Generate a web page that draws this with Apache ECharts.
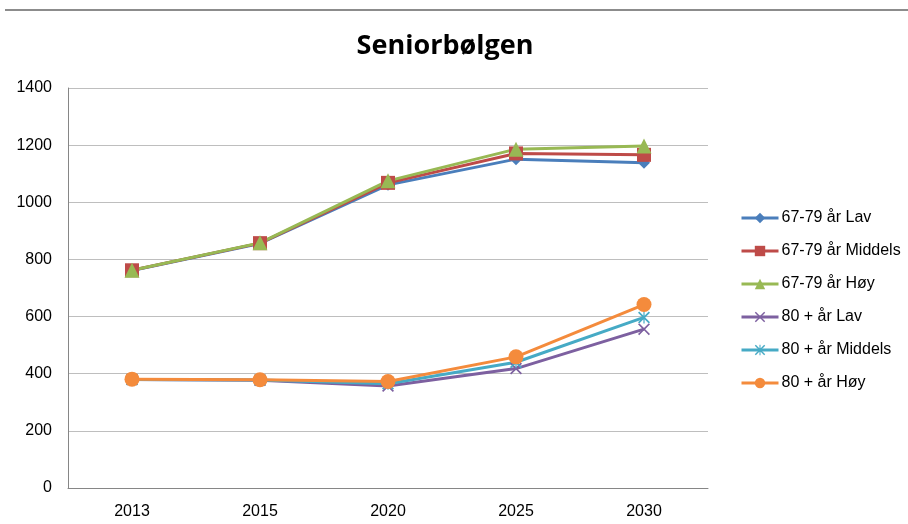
<!DOCTYPE html>
<html>
<head>
<meta charset="utf-8">
<script src="https://cdn.jsdelivr.net/npm/echarts@6/dist/echarts.min.js"></script>
<style>html,body{margin:0;padding:0;background:#fff}#c{width:908px;height:524px}</style>
</head>
<body>
<div id="c"></div>
<script>
var title = 'Seniorbølgen';
var years = ['2013', '2015', '2020', '2025', '2030'];
var seriesNames = ['67-79 år Lav', '67-79 år Middels', '67-79 år Høy', '80 + år Lav', '80 + år Middels', '80 + år Høy'];
var s6779Lav = [761, 856, 1061, 1151, 1138];
var s6779Middels = [762, 857, 1068, 1171, 1166];
var s6779Hoy = [762, 858, 1075, 1186, 1197];
var s80Lav = [380, 377, 357, 418, 556];
var s80Middels = [380, 378, 365, 440, 597];
var s80Hoy = [381, 379, 373, 459, 642];
var yTicks = {min: 0, max: 1400, interval: 200};

var colors = ['#4A7EBB', '#BE4B48', '#98B954', '#7D60A0', '#46AAC5', '#F48B3C'];
var xPath = 'path://M0,2 L2,0 L10,8 L18,0 L20,2 L12,10 L20,18 L18,20 L10,12 L2,20 L0,18 L8,10 Z';
var starPath = 'path://M0,2 L2,0 L10,8 L18,0 L20,2 L12,10 L20,18 L18,20 L10,12 L2,20 L0,18 L8,10 Z M9,0 L11,0 L11,20 L9,20 Z';
var symbols = ['diamond', 'rect', 'triangle', xPath, starPath, 'circle'];
var sizes = [12, 14, 15, 12, 12, 15];
var datas = [s6779Lav, s6779Middels, s6779Hoy, s80Lav, s80Middels, s80Hoy];

var chart = echarts.init(document.getElementById('c'), null, {renderer: 'canvas'});
var font = 'Liberation Sans';
chart.setOption({
  animation: false,
  color: colors,
  title: {
    text: title, left: 440, top: 28, textAlign: 'center',
    textStyle: {fontFamily: 'Open Sans', fontWeight: 'bold', fontSize: 27, color: '#000'}
  },
  graphic: [{type: 'line', shape: {x1: 5, y1: 10, x2: 908, y2: 10}, style: {stroke: '#8c8c8c', lineWidth: 2}}],
  legend: {
    orient: 'vertical', left: 735, top: 205, itemGap: 17, itemWidth: 37, itemHeight: 13,
    lineStyle: {width: 3},
    textStyle: {fontFamily: font, fontSize: 16, color: '#000', padding: [0, 0, 0, -2]},
    data: seriesNames
  },
  grid: {left: 68, right: 200, top: 88, bottom: 36},
  xAxis: {
    type: 'category', data: years, boundaryGap: true,
    axisLine: {lineStyle: {color: '#868686', width: 1}},
    axisTick: {show: false},
    axisLabel: {fontFamily: font, fontSize: 16, color: '#000', margin: 16}
  },
  yAxis: {
    type: 'value', min: yTicks.min, max: yTicks.max, interval: yTicks.interval,
    axisLine: {show: true, lineStyle: {color: '#868686', width: 1}},
    axisTick: {show: false},
    splitLine: {lineStyle: {color: '#bebebe', width: 1}},
    axisLabel: {fontFamily: font, fontSize: 16, color: '#000', margin: 16, formatter: function (v) { return String(v); }}
  },
  series: seriesNames.map(function (n, i) {
    return {
      name: n, type: 'line', data: datas[i], symbol: symbols[i], symbolSize: sizes[i],
      lineStyle: {width: 3, color: colors[i]},
      itemStyle: {color: colors[i]}
    };
  })
});
</script>
</body>
</html>
